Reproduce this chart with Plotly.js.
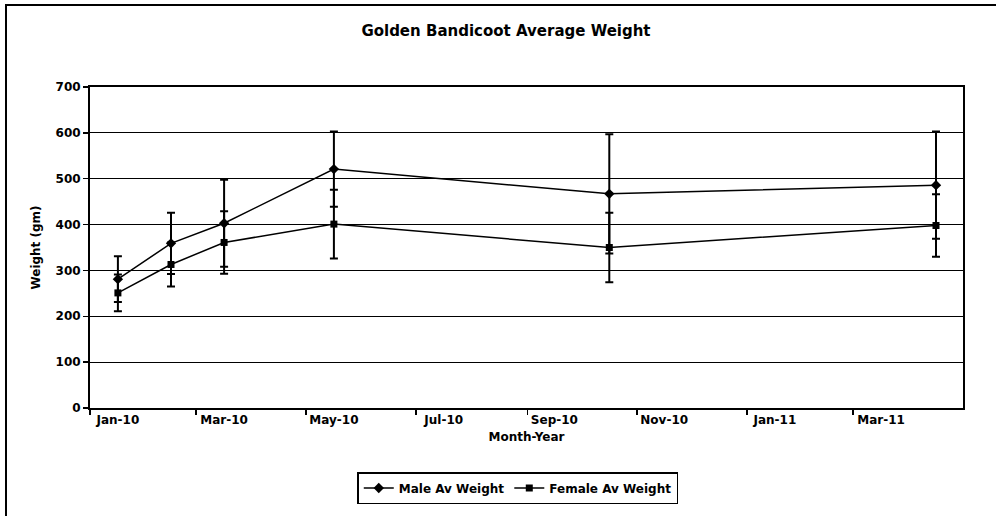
<!DOCTYPE html>
<html>
<head>
<meta charset="utf-8">
<script src="https://cdn.plot.ly/plotly-3.0.1.min.js"></script>
<style>
  html, body { margin: 0; padding: 0; background: #fff; }
  #chart { width: 996px; height: 516px; }
</style>
</head>
<body>
<div id="chart"></div>
<script>
// ---- data ----
const surveyMonths = ['2010-01', '2010-02', '2010-03', '2010-05', '2010-10', '2011-04'];
const maleWeight   = [281, 359, 403, 521, 467, 486];
const maleError    = [50, 67, 95, 82, 130, 117];
const femaleWeight = [251, 313, 361, 401, 350, 398];
const femaleError  = [40, 48, 68, 75, 76, 68];
const tickMonths   = ['2010-01', '2010-03', '2010-05', '2010-07', '2010-09', '2010-11', '2011-01', '2011-03'];
const tickLabels   = ['Jan-10', 'Mar-10', 'May-10', 'Jul-10', 'Sep-10', 'Nov-10', 'Jan-11', 'Mar-11'];
const axisStart = '2010-01';
const axisEnd   = '2011-05';

// ---- helpers ----
function monthStart(ym) {
  const [y, m] = ym.split('-').map(Number);
  return Date.UTC(y, m - 1, 1);
}
function monthMid(ym) {
  const [y, m] = ym.split('-').map(Number);
  return (Date.UTC(y, m - 1, 1) + Date.UTC(y, m, 1)) / 2;
}

const FONT = 'DejaVu Sans, Arial, sans-serif';

const male = {
  name: 'Male Av Weight',
  x: surveyMonths.map(monthMid),
  y: maleWeight,
  type: 'scatter',
  mode: 'lines+markers',
  line: { color: '#000', width: 1.5 },
  marker: { symbol: 'diamond', size: 8, color: '#000' },
  error_y: { type: 'data', array: maleError, visible: true, color: '#000', thickness: 2, width: 4 }
};
const female = {
  name: 'Female Av Weight',
  x: surveyMonths.map(monthMid),
  y: femaleWeight,
  type: 'scatter',
  mode: 'lines+markers',
  line: { color: '#000', width: 1.5 },
  marker: { symbol: 'square', size: 7, color: '#000' },
  error_y: { type: 'data', array: femaleError, visible: true, color: '#000', thickness: 2, width: 4 }
};

const L = 90, R = 33, T = 87, B = 108;
const PW = 996 - L - R, PH = 516 - T - B;
const px2x = px => (px - L) / PW;
const py2y = py => (516 - B - py) / PH;

const layout = {
  width: 996, height: 516,
  margin: { l: L, r: R, t: T, b: B, pad: 0 },
  paper_bgcolor: '#fff', plot_bgcolor: '#fff',
  font: { family: FONT, color: '#000', size: 12, weight: 700 },
  title: {
    text: 'Golden Bandicoot Average Weight',
    font: { family: FONT, size: 15, weight: 700, color: '#000' },
    x: 0.508, xref: 'container', xanchor: 'center',
    y: 1 - 31 / 516, yref: 'container', yanchor: 'middle'
  },
  xaxis: {
    type: 'date',
    range: [monthStart(axisStart), monthStart(axisEnd)],
    tickmode: 'array',
    tickvals: tickMonths.map(monthMid),
    ticktext: tickLabels,
    ticks: '',
    showgrid: false,
    zeroline: false,
    showline: true, linecolor: '#000', linewidth: 2, mirror: true,
    tickfont: { family: FONT, size: 12, weight: 700 },
    minor: { tickmode: 'array', tickvals: tickMonths.map(monthStart), ticks: 'outside', ticklen: 5, tickwidth: 1.5, tickcolor: '#000', showgrid: false },
    title: { text: 'Month-Year', font: { family: FONT, size: 12, weight: 700 }, standoff: 6 },
    fixedrange: true
  },
  yaxis: {
    range: [0, 700],
    tickmode: 'linear', tick0: 0, dtick: 100,
    ticks: 'outside', ticklen: 5, tickwidth: 1.5, tickcolor: '#000',
    showgrid: true, gridcolor: '#000', gridwidth: 1,
    zeroline: false,
    showline: true, linecolor: '#000', linewidth: 2, mirror: true,
    tickfont: { family: FONT, size: 12, weight: 700 },
    title: { text: 'Weight (gm)', font: { family: FONT, size: 12, weight: 700 }, standoff: 12 },
    fixedrange: true
  },
  showlegend: true,
  legend: {
    orientation: 'h',
    x: 0.49, xanchor: 'center',
    y: py2y(488), yanchor: 'middle',
    bordercolor: '#000', borderwidth: 1.5,
    bgcolor: '#fff',
    font: { family: FONT, size: 12, weight: 700 },
    itemwidth: 30,
    tracegroupgap: 0
  },
  shapes: [
    { type: 'rect', xref: 'paper', yref: 'paper',
      x0: px2x(6), x1: px2x(1005), y0: py2y(525), y1: py2y(5),
      line: { color: '#000', width: 2 }, fillcolor: 'rgba(0,0,0,0)', layer: 'below' }
  ]
};

Plotly.newPlot('chart', [male, female], layout, { displayModeBar: false, staticPlot: true });
</script>
</body>
</html>
